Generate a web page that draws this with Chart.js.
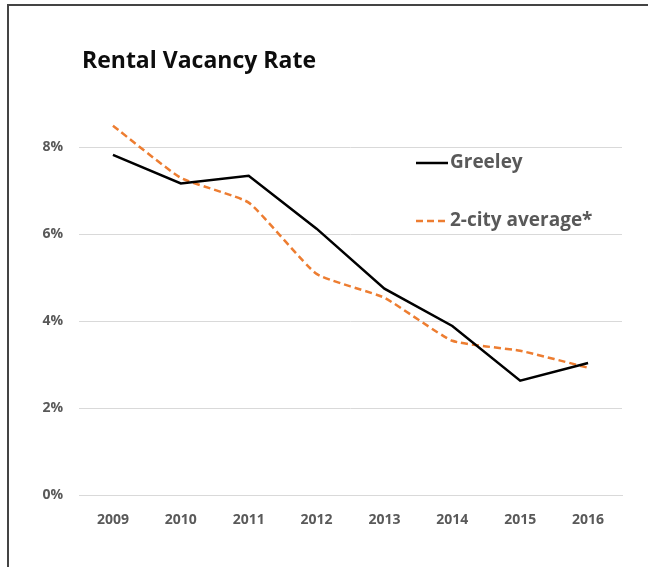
<!DOCTYPE html>
<html>
<head>
<meta charset="utf-8">
<script src="https://cdn.jsdelivr.net/npm/chart.js@4.4.1/dist/chart.umd.min.js"></script>
<style>
  html, body { margin: 0; padding: 0; background: #fff; }
  #frame { position: absolute; left: 7px; top: 4px; width: 660px; height: 580px;
           border-left: 2px solid #444; border-top: 2px solid #444; box-sizing: border-box; }
  #wrap { position: absolute; left: 0; top: 0; width: 648px; height: 567px; }
</style>
</head>
<body>
<div id="frame"></div>
<div id="wrap"><canvas id="c" width="648" height="567"></canvas></div>
<script>
const chartTitle = "Rental Vacancy Rate";
const years = ["2009", "2010", "2011", "2012", "2013", "2014", "2015", "2016"];
const greeley = [7.83, 7.17, 7.35, 6.13, 4.75, 3.89, 2.63, 3.04];
const twoCityAvg = [8.5, 7.3, 6.73, 5.09, 4.54, 3.55, 3.32, 2.93];
const seriesNames = ["Greeley", "2-city average*"];
const yTickValues = [0, 2, 4, 6, 8];

const FONT = "'Open Sans', 'Noto Sans', 'Liberation Sans', sans-serif";
const GRAY = "#595959";

const overlay = {
  id: "overlay",
  afterDraw(chart) {
    const ctx = chart.ctx;
    ctx.save();
    ctx.fillStyle = "#0d0d0d";
    ctx.font = "bold 23px " + FONT;
    ctx.textBaseline = "middle";
    ctx.textAlign = "left";
    ctx.fillText(chartTitle, 82, 61);
    const rows = [163, 221];
    chart.data.datasets.forEach((ds, i) => {
      const y = rows[i];
      ctx.beginPath();
      ctx.strokeStyle = ds.borderColor;
      ctx.lineWidth = ds.borderWidth;
      ctx.setLineDash(ds.borderDash || []);
      ctx.moveTo(416, y);
      ctx.lineTo(448, y);
      ctx.stroke();
      ctx.setLineDash([]);
      ctx.fillStyle = GRAY;
      ctx.font = "bold 19px " + FONT;
      ctx.fillText(ds.label, 450, y);
    });
    ctx.restore();
  }
};

new Chart(document.getElementById("c"), {
  type: "line",
  data: {
    labels: years,
    datasets: [
      { label: seriesNames[0], data: greeley, borderColor: "#000000", borderWidth: 2.5,
        pointRadius: 0, tension: 0, fill: false },
      { label: seriesNames[1], data: twoCityAvg, borderColor: "#ED7D31", borderWidth: 2.5,
        borderDash: [7, 4], pointRadius: 0, tension: 0.15, fill: false }
    ]
  },
  options: {
    responsive: false,
    animation: false,
    layout: { padding: { left: 0, right: 26, top: 104, bottom: 0 } },
    plugins: { legend: { display: false }, title: { display: false }, tooltip: { enabled: false } },
    scales: {
      x: {
        offset: true,
        grid: { display: false, drawTicks: false },
        border: { display: true, color: "#d9d9d9", width: 1 },
        ticks: { color: GRAY, font: { family: FONT, size: 14, weight: "bold" }, padding: 17 },
        afterFit(scale) { scale.height = 567 - 495; }
      },
      y: {
        min: 0, max: 9,
        grid: { color: "#d9d9d9", lineWidth: 1, drawTicks: false },
        border: { display: false },
        ticks: { color: GRAY, font: { family: FONT, size: 14, weight: "bold" }, padding: 16,
                 callback: (v) => v + "%" },
        afterBuildTicks(scale) { scale.ticks = yTickValues.map(v => ({ value: v })); },
        afterFit(scale) { scale.width = 79; }
      }
    }
  },
  plugins: [overlay]
});
</script>
</body>
</html>
